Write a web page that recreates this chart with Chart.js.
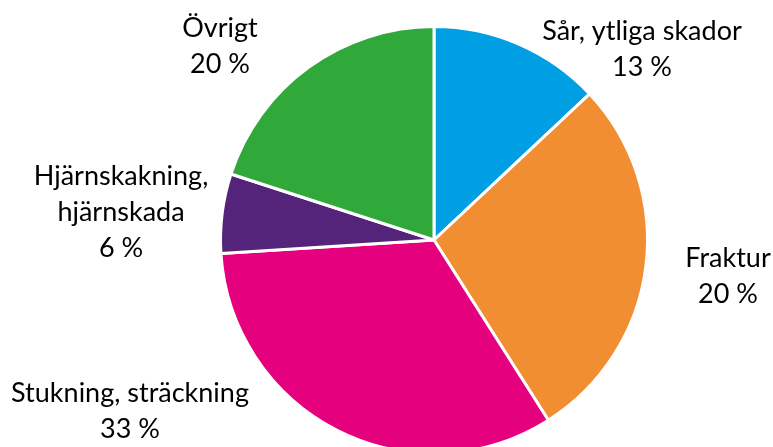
<!DOCTYPE html>
<html>
<head>
<meta charset="utf-8">
<script src="https://cdn.jsdelivr.net/npm/chart.js@4"></script>
<style>
    body { margin: 0; overflow: hidden; background: #fff; }
    .contenedor { width: 773px; height: 458px; position: relative; }
</style>
</head>
<body>
<div class="contenedor">
    <canvas id="graficoSkador"></canvas>
</div>
<script>
// Skadetyper och andelar (andelarna avlästa från tårtbitarnas vinklar)
const kategorier = [
    ["Sår, ytliga skador"],
    ["Fraktur"],
    ["Stukning, sträckning"],
    ["Hjärnskakning,", "hjärnskada"],
    ["Övrigt"]
];
const andelar = [13, 28, 33, 6, 20];
// Procenttexterna som de står i bilden
const procentTexter = ["13 %", "20 %", "33 %", "6 %", "20 %"];

const farger = ["#009FE3", "#F18E31", "#E5007E", "#54247B", "#31A93A"];

// Etiketternas placering relativt tårtans mitt (px, första radens baslinje)
const etikettPlacering = [
    [208, -200],
    [294, 27],
    [-304, 162],
    [-313, -55],
    [-214, -203]
];

const etiketter = {
    id: "etiketter",
    afterDatasetsDraw: function(chart){
        const ctx = chart.ctx;
        const arcs = chart.getDatasetMeta(0).data;
        ctx.save();
        ctx.font = "27px Lato";
        ctx.fillStyle = "#000";
        ctx.textAlign = "center";
        ctx.textBaseline = "alphabetic";
        arcs.forEach((arc, i) => {
            const rader = kategorier[i].concat([procentTexter[i]]);
            const x = arc.x + etikettPlacering[i][0];
            let y = arc.y + etikettPlacering[i][1];
            rader.forEach(rad => {
                ctx.fillText(rad, x, y);
                y += 36;
            });
        });
        ctx.restore();
    }
};

new Chart("graficoSkador", {
    type: "pie",
    data: {
        labels: kategorier.map(k => k.join(" ")),
        datasets: [{
            data: andelar,
            backgroundColor: farger,
            borderColor: "#fff",
            borderWidth: 3
        }]
    },
    options: {
        responsive: true,
        maintainAspectRatio: false,
        animation: false,
        layout: { padding: { left: 219, right: 124, top: 25, bottom: 3 } },
        plugins: {
            legend: { display: false },
            tooltip: { enabled: false }
        }
    },
    plugins: [etiketter]
});
</script>
</body>
</html>
